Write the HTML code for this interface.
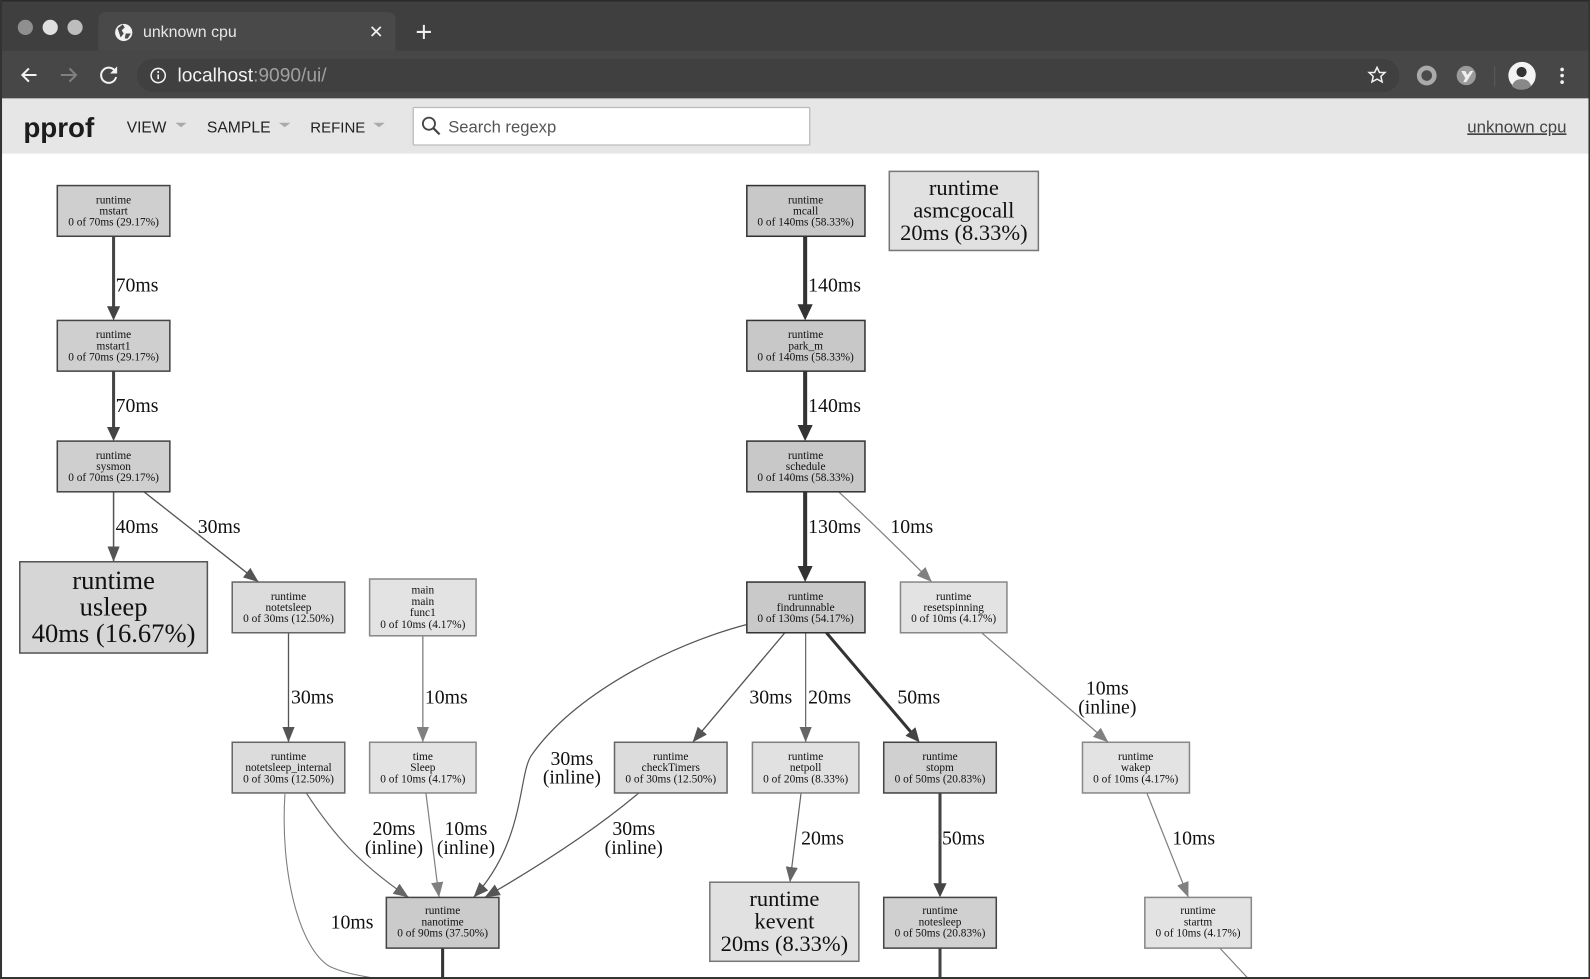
<!DOCTYPE html>
<html>
<head>
<meta charset="utf-8">
<title>unknown cpu</title>
<style>
html,body{margin:0;padding:0;background:#fff;width:1590px;height:979px;overflow:hidden}
svg{display:block}
.n{font:11.2px "Liberation Serif",serif;fill:#111;text-anchor:middle}
.l{font:19.5px "Liberation Serif",serif;fill:#111}
.c{text-anchor:middle}
.b1{font:22.2px "Liberation Serif",serif;fill:#111;text-anchor:middle}
.b2{font:26.2px "Liberation Serif",serif;fill:#111;text-anchor:middle}
.s{font-family:"Liberation Sans",sans-serif}
</style>
</head>
<body>
<svg width="1590" height="979" viewBox="0 0 1568 965.46" xmlns="http://www.w3.org/2000/svg">
<defs>
<marker id="a3" markerUnits="userSpaceOnUse" markerWidth="18" markerHeight="16" refX="10" refY="8" orient="auto"><path d="M0,0.5L16,8L0,15.500z" fill="#333"/></marker>
<marker id="a4" markerUnits="userSpaceOnUse" markerWidth="16" markerHeight="14" refX="8" refY="7" orient="auto"><path d="M0,0.5L14,7L0,13.500z" fill="#444"/></marker>
<marker id="a5" markerUnits="userSpaceOnUse" markerWidth="15" markerHeight="13" refX="15" refY="6.500" orient="auto"><path d="M0,0.5L15,6.500L0,12.500z" fill="#555"/></marker>
<marker id="a6" markerUnits="userSpaceOnUse" markerWidth="15" markerHeight="13" refX="15" refY="6.500" orient="auto"><path d="M0,0.5L15,6.500L0,12.500z" fill="#666"/></marker>
<marker id="a8" markerUnits="userSpaceOnUse" markerWidth="15" markerHeight="13" refX="15" refY="6.500" orient="auto"><path d="M0,0.5L15,6.500L0,12.500z" fill="#808080"/></marker>
</defs>

<!-- browser chrome -->
<rect width="1568" height="966" fill="#fff"/>
<rect width="1568" height="97" fill="#3f3f3f"/>
<rect y="50" width="1568" height="47" fill="#474747"/>
<path d="M97,50V20q0,-8 8,-8H382q8,0 8,8V50z" fill="#494949"/>
<rect x="135" y="58" width="1245" height="33" rx="16.500" fill="#404040"/>
<circle cx="25" cy="27" r="7.500" fill="#8f8f8f"/>
<circle cx="49.500" cy="27" r="7.500" fill="#e0e0e0"/>
<circle cx="74" cy="27" r="7.500" fill="#bdbdbd"/>
<circle cx="122" cy="32" r="8.500" fill="#f2f2f2"/>
<path d="M116,28l5,-4l2,3l-3,3l2,3l-3,4zM124,33l5,0l-3,5l-3,0z" fill="#4a4a4a"/>
<text class="s" x="141" y="36.500" font-size="15.700" fill="#e8e8e8">unknown cpu</text>
<path d="M366.500,26.500l9,9M375.500,26.500l-9,9" stroke="#eee" stroke-width="1.800"/>
<path d="M411,31.500h14M418,24.500v14" stroke="#eee" stroke-width="2"/>
<path d="M36,74H22M28.500,67.500L22,74l6.500,6.500" fill="none" stroke="#f2f2f2" stroke-width="2"/>
<path d="M60,74H75M68.500,67.500L75,74l-6.500,6.500" fill="none" stroke="#808080" stroke-width="2"/>
<path d="M114,71a7.500,7.500 0 1,0 0.500,5" fill="none" stroke="#f2f2f2" stroke-width="2"/>
<path d="M115.500,65.500v7h-7z" fill="#f2f2f2"/>
<circle cx="156" cy="74.500" r="7" fill="none" stroke="#f2f2f2" stroke-width="1.500"/>
<path d="M156,73.500v4.500M156,70v2" stroke="#f2f2f2" stroke-width="1.600"/>
<text class="s" x="175" y="80.500" font-size="18.900" fill="#f2f2f2">localhost<tspan fill="#a0a0a0">:9090/ui/</tspan></text>
<path d="M1358,66.500l2.400,5h5.400l-4,3.800l1.200,5.500l-5,-2.800l-5,2.800l1.200,-5.500l-4,-3.800h5.400z" fill="none" stroke="#f2f2f2" stroke-width="1.500"/>
<circle cx="1407" cy="74.500" r="7.500" fill="#4a4a4a" stroke="#aaa" stroke-width="4.500"/>
<circle cx="1446" cy="74.500" r="9.500" fill="#9a9a9a"/>
<path d="M1441,70h4l2,4l3,-4h3l-7,11h-3l2,-4z" fill="#eee"/>
<rect x="1473.500" y="65" width="1" height="20" fill="#5c5c5c"/>
<circle cx="1501" cy="74.500" r="13.500" fill="#f4f4f4"/>
<circle cx="1500.500" cy="71" r="5" fill="#333"/>
<path d="M1491,85q2,-7 9.500,-7t9.500,7q-4,3.500 -9.500,3.500t-9.500,-3.500z" fill="#888"/>
<circle cx="1540.500" cy="68.500" r="1.800" fill="#f2f2f2"/>
<circle cx="1540.500" cy="74.500" r="1.800" fill="#f2f2f2"/>
<circle cx="1540.500" cy="81" r="1.800" fill="#f2f2f2"/>

<!-- pprof header -->
<rect y="97" width="1568" height="54.500" fill="#e6e6e6"/>
<text class="s" x="23" y="135" font-size="27.400" font-weight="bold" fill="#1c1c1c">pprof</text>
<text class="s" x="125" y="130.500" font-size="15.300" fill="#222">VIEW</text>
<path d="M173,121h11l-5.500,4.500z" fill="#aaa"/>
<text class="s" x="204" y="130.500" font-size="15.500" fill="#222">SAMPLE</text>
<path d="M275,121h11.500l-5.700,4.500z" fill="#aaa"/>
<text class="s" x="306" y="130.500" font-size="14.800" fill="#222">REFINE</text>
<path d="M368,121h11.500l-5.700,4.500z" fill="#aaa"/>
<rect x="407.500" y="106" width="391" height="37" rx="1" fill="#fff" stroke="#bbb" stroke-width="1.300"/>
<circle cx="423" cy="122" r="6" fill="none" stroke="#444" stroke-width="1.800"/>
<path d="M427.500,126.500l6,6" stroke="#444" stroke-width="2.200"/>
<text class="s" x="442" y="130.500" font-size="16.400" fill="#555">Search regexp</text>
<text class="s" x="1447" y="130.500" font-size="16.600" fill="#444" text-decoration="underline">unknown cpu</text>

<!-- edges -->
<g fill="none">
<path d="M112,233V310" stroke="#444" stroke-width="3" marker-end="url(#a4)"/>
<path d="M112,366V429" stroke="#444" stroke-width="3" marker-end="url(#a4)"/>
<path d="M112,485V554" stroke="#555" stroke-width="1.500" marker-end="url(#a5)"/>
<path d="M142,485L255,574" stroke="#555" stroke-width="1.300" marker-end="url(#a5)"/>
<path d="M794,233V310" stroke="#333" stroke-width="4" marker-end="url(#a3)"/>
<path d="M794,366V429" stroke="#333" stroke-width="4" marker-end="url(#a3)"/>
<path d="M794,485V568" stroke="#333" stroke-width="4" marker-end="url(#a3)"/>
<path d="M827,485C860,515 890,545 919,574" stroke="#808080" stroke-width="1.200" marker-end="url(#a8)"/>
<path d="M284.500,624V732" stroke="#555" stroke-width="1.300" marker-end="url(#a5)"/>
<path d="M417,627V732" stroke="#808080" stroke-width="1.300" marker-end="url(#a8)"/>
<path d="M736,616C660,636 566,685 524,745C511,764 518,830 467,885" stroke="#555" stroke-width="1.200" marker-end="url(#a5)"/>
<path d="M302,782C330,825 355,852 403,885" stroke="#666" stroke-width="1.200" marker-end="url(#a6)"/>
<path d="M281,783C276,860 295,935 325,953C340,960 355,962 368,964.500" stroke="#808080" stroke-width="1.100"/>
<path d="M420,782L433,885" stroke="#808080" stroke-width="1.200" marker-end="url(#a8)"/>
<path d="M630,782C585,820 530,855 478,885" stroke="#555" stroke-width="1.200" marker-end="url(#a5)"/>
<path d="M774,624L683,732" stroke="#555" stroke-width="1.300" marker-end="url(#a5)"/>
<path d="M794.500,624V732" stroke="#666" stroke-width="1.200" marker-end="url(#a6)"/>
<path d="M815,624L903,727.400" stroke="#333" stroke-width="3" marker-end="url(#a4)"/>
<path d="M790,782L779,870" stroke="#666" stroke-width="1.200" marker-end="url(#a6)"/>
<path d="M927,782V879" stroke="#444" stroke-width="3" marker-end="url(#a4)"/>
<path d="M968,624L1093,732" stroke="#808080" stroke-width="1.200" marker-end="url(#a8)"/>
<path d="M1131,782L1172,885" stroke="#808080" stroke-width="1.200" marker-end="url(#a8)"/>
<path d="M1203,935L1230,964" stroke="#808080" stroke-width="1.200"/>
<path d="M436.500,935V964" stroke="#333" stroke-width="3"/>
<path d="M927,935V964" stroke="#444" stroke-width="3"/>
</g>

<!-- nodes -->
<g stroke-width="1.500">
<rect x="56.500" y="183" width="111" height="50" fill="#cfcfcf" stroke="#444"/>
<rect x="56.500" y="316" width="111" height="50" fill="#cfcfcf" stroke="#444"/>
<rect x="56.500" y="435" width="111" height="50" fill="#cfcfcf" stroke="#444"/>
<rect x="19.500" y="554" width="185" height="90" fill="#d6d6d6" stroke="#555"/>
<rect x="229" y="574" width="111" height="50" fill="#dcdcdc" stroke="#666"/>
<rect x="364.500" y="571" width="105" height="56" fill="#e3e3e3" stroke="#888"/>
<rect x="229" y="732" width="111" height="50" fill="#dcdcdc" stroke="#666"/>
<rect x="364.500" y="732" width="105" height="50" fill="#e3e3e3" stroke="#888"/>
<rect x="381" y="885" width="111" height="50" fill="#cbcbcb" stroke="#444"/>
<rect x="736.500" y="183" width="116.500" height="50" fill="#c8c8c8" stroke="#333"/>
<rect x="736.500" y="316" width="116.500" height="50" fill="#c8c8c8" stroke="#333"/>
<rect x="736.500" y="435" width="116.500" height="50" fill="#c8c8c8" stroke="#333"/>
<rect x="877" y="169" width="147" height="78" fill="#e1e1e1" stroke="#777"/>
<rect x="736.500" y="574" width="116.500" height="50" fill="#c9c9c9" stroke="#333"/>
<rect x="888" y="574" width="105" height="50" fill="#e3e3e3" stroke="#888"/>
<rect x="606" y="732" width="111" height="50" fill="#dcdcdc" stroke="#666"/>
<rect x="742" y="732" width="105" height="50" fill="#e1e1e1" stroke="#808080"/>
<rect x="871.500" y="732" width="111" height="50" fill="#d0d0d0" stroke="#444"/>
<rect x="1067.500" y="732" width="105.500" height="50" fill="#e3e3e3" stroke="#888"/>
<rect x="700" y="870" width="147" height="78" fill="#e1e1e1" stroke="#777"/>
<rect x="871.500" y="885" width="111" height="50" fill="#d0d0d0" stroke="#444"/>
<rect x="1129" y="885" width="105" height="50" fill="#e3e3e3" stroke="#888"/>
</g>

<!-- node text -->
<g transform="translate(0,-0.5)">
<text class="n" x="112" y="201">runtime</text><text class="n" x="112" y="212">mstart</text><text class="n" x="112" y="223">0 of 70ms (29.17%)</text>
<text class="n" x="112" y="334">runtime</text><text class="n" x="112" y="345">mstart1</text><text class="n" x="112" y="356">0 of 70ms (29.17%)</text>
<text class="n" x="112" y="453">runtime</text><text class="n" x="112" y="464">sysmon</text><text class="n" x="112" y="475">0 of 70ms (29.17%)</text>
<text class="n" x="284.500" y="592">runtime</text><text class="n" x="284.500" y="603">notetsleep</text><text class="n" x="284.500" y="614">0 of 30ms (12.50%)</text>
<text class="n" x="417" y="586">main</text><text class="n" x="417" y="597">main</text><text class="n" x="417" y="608">func1</text><text class="n" x="417" y="620">0 of 10ms (4.17%)</text>
<text class="n" x="284.500" y="750">runtime</text><text class="n" x="284.500" y="761">notetsleep_internal</text><text class="n" x="284.500" y="772">0 of 30ms (12.50%)</text>
<text class="n" x="417" y="750">time</text><text class="n" x="417" y="761">Sleep</text><text class="n" x="417" y="772">0 of 10ms (4.17%)</text>
<text class="n" x="436.500" y="902">runtime</text><text class="n" x="436.500" y="913">nanotime</text><text class="n" x="436.500" y="924">0 of 90ms (37.50%)</text>
<text class="n" x="794.500" y="201">runtime</text><text class="n" x="794.500" y="212">mcall</text><text class="n" x="794.500" y="223">0 of 140ms (58.33%)</text>
<text class="n" x="794.500" y="334">runtime</text><text class="n" x="794.500" y="345">park_m</text><text class="n" x="794.500" y="356">0 of 140ms (58.33%)</text>
<text class="n" x="794.500" y="453">runtime</text><text class="n" x="794.500" y="464">schedule</text><text class="n" x="794.500" y="475">0 of 140ms (58.33%)</text>
<text class="n" x="794.500" y="592">runtime</text><text class="n" x="794.500" y="603">findrunnable</text><text class="n" x="794.500" y="614">0 of 130ms (54.17%)</text>
<text class="n" x="940.500" y="592">runtime</text><text class="n" x="940.500" y="603">resetspinning</text><text class="n" x="940.500" y="614">0 of 10ms (4.17%)</text>
<text class="n" x="661.500" y="750">runtime</text><text class="n" x="661.500" y="761">checkTimers</text><text class="n" x="661.500" y="772">0 of 30ms (12.50%)</text>
<text class="n" x="794.500" y="750">runtime</text><text class="n" x="794.500" y="761">netpoll</text><text class="n" x="794.500" y="772">0 of 20ms (8.33%)</text>
<text class="n" x="927" y="750">runtime</text><text class="n" x="927" y="761">stopm</text><text class="n" x="927" y="772">0 of 50ms (20.83%)</text>
<text class="n" x="1120" y="750">runtime</text><text class="n" x="1120" y="761">wakep</text><text class="n" x="1120" y="772">0 of 10ms (4.17%)</text>
<text class="n" x="927" y="902">runtime</text><text class="n" x="927" y="913">notesleep</text><text class="n" x="927" y="924">0 of 50ms (20.83%)</text>
<text class="n" x="1181.500" y="902">runtime</text><text class="n" x="1181.500" y="913">startm</text><text class="n" x="1181.500" y="924">0 of 10ms (4.17%)</text>
</g>
<text class="b2" x="112" y="581">runtime</text><text class="b2" x="112" y="607">usleep</text><text class="b2" x="112" y="633">40ms (16.67%)</text>
<text class="b1" x="950.500" y="192.500">runtime</text><text class="b1" x="950.500" y="214.500">asmcgocall</text><text class="b1" x="950.500" y="236.500">20ms (8.33%)</text>
<text class="b1" x="773.500" y="893.500">runtime</text><text class="b1" x="773.500" y="915.500">kevent</text><text class="b1" x="773.500" y="938">20ms (8.33%)</text>

<!-- edge labels -->
<g transform="translate(0,0.7)">
<text class="l" x="114" y="287">70ms</text>
<text class="l" x="114" y="405.500">70ms</text>
<text class="l" x="114" y="525">40ms</text>
<text class="l" x="195" y="525">30ms</text>
<text class="l" x="287" y="693">30ms</text>
<text class="l" x="419" y="693">10ms</text>
<text class="l" x="797" y="287">140ms</text>
<text class="l" x="797" y="405.500">140ms</text>
<text class="l" x="797" y="525">130ms</text>
<text class="l" x="878" y="525">10ms</text>
<text class="l" x="739" y="693">30ms</text>
<text class="l" x="797" y="693">20ms</text>
<text class="l" x="885" y="693">50ms</text>
<text class="l c" x="1092" y="684">10ms</text><text class="l c" x="1092" y="703">(inline)</text>
<text class="l c" x="564" y="753.500">30ms</text><text class="l c" x="564" y="772">(inline)</text>
<text class="l c" x="388.500" y="823">20ms</text><text class="l c" x="388.500" y="841.500">(inline)</text>
<text class="l c" x="459.500" y="823">10ms</text><text class="l c" x="459.500" y="841.500">(inline)</text>
<text class="l c" x="625" y="823">30ms</text><text class="l c" x="625" y="841.500">(inline)</text>
<text class="l" x="326" y="915">10ms</text>
<text class="l" x="790" y="832">20ms</text>
<text class="l" x="929" y="832">50ms</text>
<text class="l" x="1156" y="832">10ms</text>
</g>

<!-- window frame -->
<rect x="0" y="0" width="1568" height="1.500" fill="#2a2a2a"/>
<rect x="0" y="0" width="2" height="966" fill="#333"/>
<rect x="1566.500" y="0" width="1.500" height="966" fill="#333"/>
<rect x="0" y="963.500" width="1568" height="2" fill="#333"/>
</svg>
</body>
</html>
